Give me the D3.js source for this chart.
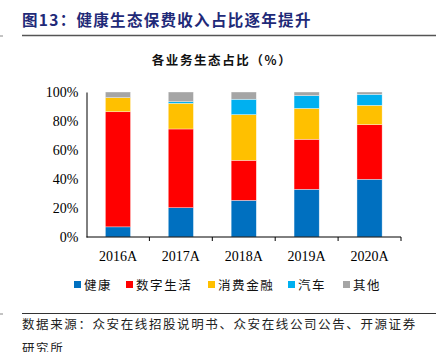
<!DOCTYPE html>
<html>
<head>
<meta charset="utf-8">
<script src="https://cdn.jsdelivr.net/npm/d3@7"></script>
<style>
  body { margin: 0; background: #fff; }
  svg { display: block; }
</style>
</head>
<body>
<div id="chart"></div>
<script>
// data (%)
var years = ["2016A", "2017A", "2018A", "2019A", "2020A"];
var seriesNames = ["健康", "数字生活", "消费金融", "汽车", "其他"];
var health   = [7.0, 20.2, 25.3, 32.9, 39.8];
var digital  = [79.4, 54.3, 27.6, 34.5, 37.7];
var consumer = [9.7, 17.7, 31.5, 21.3, 13.3];
var auto     = [0.0, 1.1, 10.6, 8.8, 7.6];
var other    = [3.9, 6.7, 5.0, 2.5, 1.6];
var yTicks = [0, 20, 40, 60, 80, 100];

var colors = ["#0070C0", "#FF0000", "#FFC000", "#00B0F0", "#A5A5A5"];
var serif = "'Liberation Serif', 'Times New Roman', serif";
var cjk = "'Noto Sans CJK SC', sans-serif";

var W = 436, H = 352;
var svg = d3.select("#chart").append("svg").attr("width", W).attr("height", H);

// header
svg.append("text")
  .attr("x", 22).attr("y", 26)
  .style("font-family", cjk).style("font-weight", "bold")
  .style("font-size", "15.5px").style("fill", "#1F2A78")
  .style("letter-spacing", "1.3px")
  .text("图13：健康生态保费收入占比逐年提升");
svg.append("line").attr("x1", 22).attr("x2", W).attr("y1", 35.5).attr("y2", 35.5)
  .style("stroke", "#555").style("stroke-width", 1.5);
svg.append("line").attr("x1", 0).attr("x2", 3).attr("y1", 36).attr("y2", 36)
  .style("stroke", "#888").style("stroke-width", 1);

svg.append("text")
  .attr("x", 222).attr("y", 65).attr("text-anchor", "middle")
  .style("font-family", cjk).style("font-weight", "bold")
  .style("font-size", "12.5px").style("fill", "#111")
  .style("letter-spacing", "1.6px")
  .text("各业务生态占比（%）");

var rows = years.map(function(y, i) {
  return {year: y, "健康": health[i], "数字生活": digital[i], "消费金融": consumer[i], "汽车": auto[i], "其他": other[i]};
});
var stacked = d3.stack().keys(seriesNames)(rows);

var x = d3.scaleBand().domain(years).range([86.5, 401]).paddingInner(0.6).paddingOuter(0.3);
var y = d3.scaleLinear().domain([0, 100]).range([237, 92]);

var g = svg.append("g");
g.selectAll("g.series")
  .data(stacked)
  .enter().append("g")
  .attr("class", "series")
  .style("fill", function(d, i) { return colors[i]; })
  .selectAll("rect")
  .data(function(d) { return d; })
  .enter().append("rect")
  .attr("x", function(d) { return x(d.data.year); })
  .attr("width", x.bandwidth())
  .attr("y", function(d) { return y(d[1]); })
  .attr("height", function(d) { return Math.max(0, y(d[0]) - y(d[1])); })
  .style("stroke", "#fff").style("stroke-width", 0.6).style("stroke-opacity", 0.6);

// y axis
var yAxis = d3.axisLeft(y).tickValues(yTicks).tickFormat(function(d) { return d + "%"; })
  .tickSize(0).tickPadding(8);
var ya = svg.append("g").attr("transform", "translate(86.5,0)").call(yAxis);
ya.select(".domain").style("stroke", "#000");
ya.selectAll("text").style("font-family", serif).style("font-size", "14px").style("fill", "#000");

// x axis with ticks at band boundaries
var xa = svg.append("g").attr("transform", "translate(0,237)");
xa.append("line").attr("x1", 86.5).attr("x2", 401).style("stroke", "#000");
var edges = d3.range(1, years.length + 1).map(function(i) { return 86.5 + i * (401 - 86.5) / years.length; });
xa.selectAll("line.tk").data(edges).enter().append("line").attr("class", "tk")
  .attr("x1", function(d) { return d; }).attr("x2", function(d) { return d; })
  .attr("y1", 0).attr("y2", 4).style("stroke", "#000");
xa.selectAll("text").data(years).enter().append("text")
  .attr("x", function(d) { return x(d) + x.bandwidth() / 2; })
  .attr("y", 24).attr("text-anchor", "middle")
  .style("font-family", serif).style("font-size", "14px").style("fill", "#000")
  .text(function(d) { return d; });

// legend
var legendX = [74, 126, 208, 288, 343];
var lg = svg.selectAll("g.legend").data(seriesNames).enter().append("g")
  .attr("class", "legend")
  .attr("transform", function(d, i) { return "translate(" + legendX[i] + ",285)"; });
lg.append("rect").attr("x", 0).attr("y", -4).attr("width", 7).attr("height", 7)
  .style("fill", function(d, i) { return colors[i]; });
lg.append("text").attr("x", 10).attr("y", 4.5)
  .style("font-family", cjk).style("font-size", "12.5px").style("fill", "#111")
  .style("letter-spacing", "1.6px")
  .text(function(d) { return d; });

// footer
svg.append("line").attr("x1", 22).attr("x2", W).attr("y1", 313.5).attr("y2", 313.5)
  .style("stroke", "#333").style("stroke-width", 1);
svg.append("line").attr("x1", 0).attr("x2", 3).attr("y1", 314).attr("y2", 314)
  .style("stroke", "#888").style("stroke-width", 1);
svg.append("text").attr("x", 22).attr("y", 329)
  .style("font-family", cjk).style("font-size", "12.5px").style("fill", "#222")
  .style("letter-spacing", "1.6px")
  .text("数据来源：众安在线招股说明书、众安在线公司公告、开源证券");
svg.append("text").attr("x", 22).attr("y", 353)
  .style("font-family", cjk).style("font-size", "12.5px").style("fill", "#222")
  .style("letter-spacing", "1.6px")
  .text("研究所");
</script>
</body>
</html>
